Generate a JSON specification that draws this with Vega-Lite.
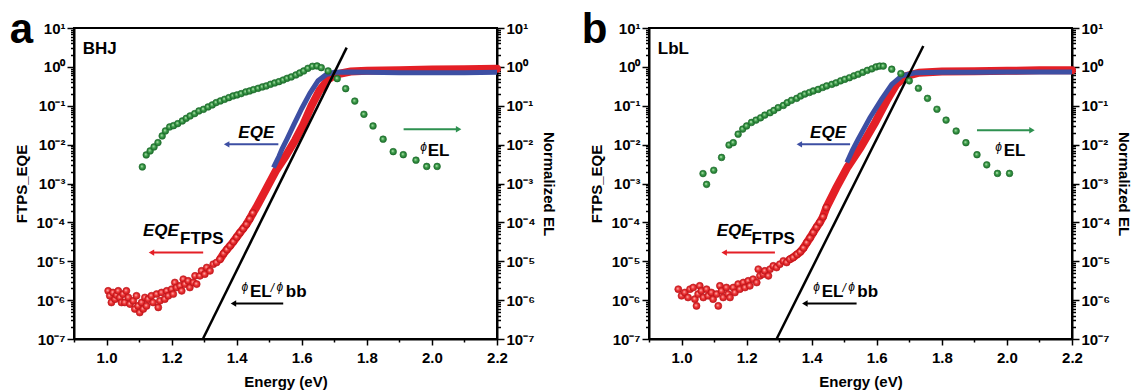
{
"$schema":"https://vega.github.io/schema/vega-lite/v6.json",
"padding":{"left":8,"top":8,"right":0,"bottom":0},
"datasets":{
"a_curves":[
{"s":"FTPS","E":1.005,"v":1.73e-6},{"s":"FTPS","E":1.010,"v":1.29e-6},{"s":"FTPS","E":1.015,"v":8.7e-7},{"s":"FTPS","E":1.020,"v":1.57e-6},{"s":"FTPS","E":1.026,"v":1.06e-6},{"s":"FTPS","E":1.031,"v":1.34e-6},{"s":"FTPS","E":1.036,"v":1.73e-6},{"s":"FTPS","E":1.041,"v":1.17e-6},{"s":"FTPS","E":1.046,"v":8.7e-7},{"s":"FTPS","E":1.051,"v":1.43e-6},{"s":"FTPS","E":1.056,"v":8.7e-7},{"s":"FTPS","E":1.061,"v":1.73e-6},{"s":"FTPS","E":1.067,"v":1.17e-6},{"s":"FTPS","E":1.072,"v":7.9e-7},{"s":"FTPS","E":1.082,"v":9.6e-7},{"s":"FTPS","E":1.087,"v":5.9e-7},{"s":"FTPS","E":1.092,"v":1.29e-6},{"s":"FTPS","E":1.097,"v":7.1e-7},{"s":"FTPS","E":1.102,"v":4.8e-7},{"s":"FTPS","E":1.108,"v":8.7e-7},{"s":"FTPS","E":1.113,"v":5.9e-7},{"s":"FTPS","E":1.118,"v":1.17e-6},{"s":"FTPS","E":1.123,"v":7.1e-7},{"s":"FTPS","E":1.128,"v":1.06e-6},{"s":"FTPS","E":1.138,"v":1.29e-6},{"s":"FTPS","E":1.143,"v":8.7e-7},{"s":"FTPS","E":1.154,"v":1.43e-6},{"s":"FTPS","E":1.159,"v":6.5e-7},{"s":"FTPS","E":1.164,"v":9.6e-7},{"s":"FTPS","E":1.169,"v":1.57e-6},{"s":"FTPS","E":1.179,"v":1.06e-6},{"s":"FTPS","E":1.185,"v":1.73e-6},{"s":"FTPS","E":1.190,"v":1.29e-6},{"s":"FTPS","E":1.200,"v":1.91e-6},{"s":"FTPS","E":1.205,"v":1.43e-6},{"s":"FTPS","E":1.210,"v":2.84e-6},{"s":"FTPS","E":1.215,"v":2.11e-6},{"s":"FTPS","E":1.226,"v":2.33e-6},{"s":"FTPS","E":1.231,"v":1.73e-6},{"s":"FTPS","E":1.236,"v":3.46e-6},{"s":"FTPS","E":1.241,"v":2.58e-6},{"s":"FTPS","E":1.251,"v":3.13e-6},{"s":"FTPS","E":1.256,"v":2.11e-6},{"s":"FTPS","E":1.267,"v":2.84e-6},{"s":"FTPS","E":1.272,"v":4.21e-6},{"s":"FTPS","E":1.277,"v":2.58e-6},{"s":"FTPS","E":1.287,"v":4.21e-6},{"s":"FTPS","E":1.292,"v":5.66e-6},{"s":"FTPS","E":1.302,"v":4.66e-6},{"s":"FTPS","E":1.308,"v":6.9e-6},{"s":"FTPS","E":1.318,"v":5.66e-6},{"s":"FTPS","E":1.328,"v":8.4e-6},{"s":"FTPS","E":1.338,"v":9.3e-6},{"s":"FTPS","E":1.349,"v":1.13e-5},
{"s":"FTPS","E":1.36,"v":1.58e-5},{"s":"FTPS","E":1.37,"v":2.0e-5},{"s":"FTPS","E":1.38,"v":2.51e-5},{"s":"FTPS","E":1.39,"v":3.2e-5},{"s":"FTPS","E":1.40,"v":4.17e-5},{"s":"FTPS","E":1.41,"v":5.4e-5},{"s":"FTPS","E":1.42,"v":6.9e-5},{"s":"FTPS","E":1.43,"v":8.91e-5},{"s":"FTPS","E":1.44,"v":1.23e-4},{"s":"FTPS","E":1.45,"v":1.74e-4},{"s":"FTPS","E":1.46,"v":2.4e-4},{"s":"FTPS","E":1.49,"v":7.08e-4},{"s":"FTPS","E":1.52,"v":2.09e-3},{"s":"FTPS","E":1.55,"v":5.01e-3},{"s":"FTPS","E":1.58,"v":0.0132},{"s":"FTPS","E":1.605,"v":0.0331},{"s":"FTPS","E":1.63,"v":0.1},{"s":"FTPS","E":1.655,"v":0.251},{"s":"FTPS","E":1.68,"v":0.468},{"s":"FTPS","E":1.70,"v":0.603},{"s":"FTPS","E":1.72,"v":0.676},{"s":"FTPS","E":1.75,"v":0.759},{"s":"FTPS","E":1.8,"v":0.794},{"s":"FTPS","E":1.9,"v":0.813},{"s":"FTPS","E":2.0,"v":0.851},{"s":"FTPS","E":2.1,"v":0.871},{"s":"FTPS","E":2.2,"v":0.891},
{"s":"EQE","E":1.513,"v":2.57e-3},{"s":"EQE","E":1.53,"v":5.01e-3},{"s":"EQE","E":1.54,"v":7.94e-3},{"s":"EQE","E":1.555,"v":0.0141},{"s":"EQE","E":1.575,"v":0.0316},{"s":"EQE","E":1.60,"v":0.0851},{"s":"EQE","E":1.625,"v":0.209},{"s":"EQE","E":1.65,"v":0.437},{"s":"EQE","E":1.675,"v":0.631},{"s":"EQE","E":1.70,"v":0.724},{"s":"EQE","E":1.75,"v":0.741},{"s":"EQE","E":1.8,"v":0.724},{"s":"EQE","E":1.9,"v":0.708},{"s":"EQE","E":2.0,"v":0.708},{"s":"EQE","E":2.1,"v":0.708},{"s":"EQE","E":2.2,"v":0.724},
{"s":"BB","E":1.296,"v":1e-7},{"s":"BB","E":1.738,"v":3.12}
],
"a_el":[
{"E":1.110,"v":2.67e-3},{"E":1.122,"v":5.43e-3},{"E":1.134,"v":6.89e-3},{"E":1.146,"v":8.73e-3},{"E":1.158,"v":0.01127},{"E":1.171,"v":0.01675},{"E":1.181,"v":0.02249},{"E":1.194,"v":0.0285},{"E":1.206,"v":0.0308},{"E":1.219,"v":0.0347},{"E":1.233,"v":0.0406},{"E":1.245,"v":0.0476},{"E":1.257,"v":0.0547},{"E":1.271,"v":0.0628},{"E":1.284,"v":0.0735},{"E":1.298,"v":0.0811},{"E":1.312,"v":0.0931},{"E":1.325,"v":0.105},{"E":1.337,"v":0.1205},{"E":1.350,"v":0.1328},{"E":1.363,"v":0.1466},{"E":1.376,"v":0.1618},{"E":1.389,"v":0.1786},{"E":1.401,"v":0.1897},{"E":1.414,"v":0.2051},{"E":1.428,"v":0.2265},{"E":1.440,"v":0.2399},{"E":1.452,"v":0.26},{"E":1.466,"v":0.2812},{"E":1.479,"v":0.304},{"E":1.491,"v":0.3228},{"E":1.504,"v":0.3565},{"E":1.517,"v":0.3855},{"E":1.530,"v":0.417},{"E":1.543,"v":0.46},{"E":1.555,"v":0.508},{"E":1.568,"v":0.55},{"E":1.582,"v":0.619},{"E":1.594,"v":0.697},{"E":1.606,"v":0.785},{"E":1.619,"v":0.918},{"E":1.633,"v":1.035},{"E":1.647,"v":1.055},{"E":1.660,"v":0.955},{"E":1.681,"v":0.785},{"E":1.709,"v":0.498},{"E":1.735,"v":0.275},{"E":1.763,"v":0.132},{"E":1.791,"v":0.0603},{"E":1.819,"v":0.0302},{"E":1.850,"v":0.0138},{"E":1.881,"v":6.6e-3},{"E":1.912,"v":5.5e-3},{"E":1.951,"v":3.98e-3},{"E":1.984,"v":2.75e-3},{"E":2.016,"v":2.75e-3}
],
"a_arrows":[
{"s":"EQE","E":1.369,"E2":1.528,"v":0.0102,"dir":"left"},
{"s":"EL","E":2.082,"E2":1.913,"v":0.0249,"dir":"right"},
{"s":"FTPS","E":1.138,"E2":1.297,"v":1.67e-5,"dir":"left"},
{"s":"BB","E":1.390,"E2":1.543,"v":8.2e-7,"dir":"left"}
],
"a_tag":[{"t":"a","E":0.7025,"v":4.11}],
"a_bold":[
{"t":"BHJ","E":0.927,"v":2.15},{"t":"FTPS","E":1.226,"v":2.8e-5},{"t":"EL","E":1.987,"v":5.1e-3},{"t":"EL","E":1.441,"v":1.17e-6},{"t":"bb","E":1.551,"v":1.17e-6}
],
"a_it":[
{"t":"EQE","E":1.405,"v":0.01486},{"t":"EQE","E":1.112,"v":4.5e-5}
],
"a_phi":[
{"t":"ϕ","E":1.964,"v":6.9e-3},{"t":"ϕ","E":1.415,"v":1.74e-6},{"t":"/","E":1.505,"v":1.63e-6},{"t":"ϕ","E":1.522,"v":1.74e-6}
],
"b_curves":[
{"s":"FTPS","E":0.990,"v":1.91e-6},{"s":"FTPS","E":1.000,"v":1.29e-6},{"s":"FTPS","E":1.010,"v":1.57e-6},{"s":"FTPS","E":1.020,"v":1.17e-6},{"s":"FTPS","E":1.026,"v":1.91e-6},{"s":"FTPS","E":1.036,"v":2.11e-6},{"s":"FTPS","E":1.041,"v":1.06e-6},{"s":"FTPS","E":1.046,"v":7.1e-7},{"s":"FTPS","E":1.051,"v":1.43e-6},{"s":"FTPS","E":1.056,"v":2.33e-6},{"s":"FTPS","E":1.061,"v":1.73e-6},{"s":"FTPS","E":1.067,"v":1.17e-6},{"s":"FTPS","E":1.077,"v":1.91e-6},{"s":"FTPS","E":1.082,"v":1.29e-6},{"s":"FTPS","E":1.092,"v":1.57e-6},{"s":"FTPS","E":1.097,"v":1.06e-6},{"s":"FTPS","E":1.108,"v":1.43e-6},{"s":"FTPS","E":1.113,"v":7.1e-7},{"s":"FTPS","E":1.118,"v":2.33e-6},{"s":"FTPS","E":1.123,"v":1.73e-6},{"s":"FTPS","E":1.128,"v":1.17e-6},{"s":"FTPS","E":1.138,"v":2.11e-6},{"s":"FTPS","E":1.143,"v":1.43e-6},{"s":"FTPS","E":1.149,"v":1.17e-6},{"s":"FTPS","E":1.159,"v":2.11e-6},{"s":"FTPS","E":1.164,"v":1.57e-6},{"s":"FTPS","E":1.174,"v":2.58e-6},{"s":"FTPS","E":1.179,"v":1.91e-6},{"s":"FTPS","E":1.190,"v":2.84e-6},{"s":"FTPS","E":1.195,"v":2.11e-6},{"s":"FTPS","E":1.205,"v":3.13e-6},{"s":"FTPS","E":1.210,"v":2.33e-6},{"s":"FTPS","E":1.220,"v":3.46e-6},{"s":"FTPS","E":1.231,"v":2.84e-6},{"s":"FTPS","E":1.236,"v":6.25e-6},{"s":"FTPS","E":1.241,"v":4.21e-6},{"s":"FTPS","E":1.251,"v":4.66e-6},{"s":"FTPS","E":1.256,"v":5.66e-6},{"s":"FTPS","E":1.267,"v":4.21e-6},{"s":"FTPS","E":1.272,"v":6.25e-6},{"s":"FTPS","E":1.282,"v":7.6e-6},{"s":"FTPS","E":1.292,"v":6.9e-6},{"s":"FTPS","E":1.302,"v":8.4e-6},{"s":"FTPS","E":1.313,"v":1.02e-5},{"s":"FTPS","E":1.323,"v":9.3e-6},{"s":"FTPS","E":1.333,"v":1.13e-5},{"s":"FTPS","E":1.343,"v":1.25e-5},
{"s":"FTPS","E":1.355,"v":1.5e-5},{"s":"FTPS","E":1.365,"v":1.75e-5},{"s":"FTPS","E":1.375,"v":2.2e-5},{"s":"FTPS","E":1.385,"v":3.0e-5},{"s":"FTPS","E":1.395,"v":4.0e-5},{"s":"FTPS","E":1.405,"v":5.5e-5},{"s":"FTPS","E":1.415,"v":7.5e-5},{"s":"FTPS","E":1.425,"v":1.0e-4},{"s":"FTPS","E":1.435,"v":1.4e-4},{"s":"FTPS","E":1.445,"v":2.4e-4},{"s":"FTPS","E":1.475,"v":7.59e-4},{"s":"FTPS","E":1.51,"v":2.63e-3},{"s":"FTPS","E":1.55,"v":8.32e-3},{"s":"FTPS","E":1.595,"v":0.0372},{"s":"FTPS","E":1.63,"v":0.132},{"s":"FTPS","E":1.66,"v":0.355},{"s":"FTPS","E":1.69,"v":0.575},{"s":"FTPS","E":1.73,"v":0.708},{"s":"FTPS","E":1.8,"v":0.759},{"s":"FTPS","E":1.9,"v":0.776},{"s":"FTPS","E":2.0,"v":0.794},{"s":"FTPS","E":2.1,"v":0.813},{"s":"FTPS","E":2.2,"v":0.813},
{"s":"EQE","E":1.508,"v":3.47e-3},{"s":"EQE","E":1.525,"v":7.08e-3},{"s":"EQE","E":1.543,"v":0.0138},{"s":"EQE","E":1.579,"v":0.049},{"s":"EQE","E":1.615,"v":0.148},{"s":"EQE","E":1.646,"v":0.355},{"s":"EQE","E":1.677,"v":0.589},{"s":"EQE","E":1.718,"v":0.708},{"s":"EQE","E":1.8,"v":0.724},{"s":"EQE","E":1.9,"v":0.724},{"s":"EQE","E":2.0,"v":0.741},{"s":"EQE","E":2.1,"v":0.741},{"s":"EQE","E":2.2,"v":0.741},
{"s":"BB","E":1.292,"v":1e-7},{"s":"BB","E":1.743,"v":3.44}
],
"b_el":[
{"E":1.066,"v":1.8e-3},{"E":1.077,"v":9.5e-4},{"E":1.099,"v":2.19e-3},{"E":1.123,"v":4.68e-3},{"E":1.146,"v":9.77e-3},{"E":1.159,"v":0.0112},{"E":1.174,"v":0.0186},{"E":1.188,"v":0.0251},{"E":1.200,"v":0.0302},{"E":1.215,"v":0.0372},{"E":1.229,"v":0.0427},{"E":1.243,"v":0.049},{"E":1.256,"v":0.0575},{"E":1.272,"v":0.0661},{"E":1.284,"v":0.0759},{"E":1.297,"v":0.0891},{"E":1.313,"v":0.102},{"E":1.325,"v":0.12},{"E":1.338,"v":0.138},{"E":1.354,"v":0.155},{"E":1.366,"v":0.178},{"E":1.379,"v":0.2},{"E":1.393,"v":0.219},{"E":1.405,"v":0.24},{"E":1.420,"v":0.263},{"E":1.434,"v":0.295},{"E":1.446,"v":0.324},{"E":1.462,"v":0.355},{"E":1.475,"v":0.389},{"E":1.489,"v":0.437},{"E":1.502,"v":0.479},{"E":1.516,"v":0.525},{"E":1.530,"v":0.589},{"E":1.543,"v":0.646},{"E":1.557,"v":0.724},{"E":1.571,"v":0.813},{"E":1.585,"v":0.891},{"E":1.598,"v":1.0},{"E":1.609,"v":1.05},{"E":1.620,"v":1.047},{"E":1.646,"v":0.871},{"E":1.674,"v":0.676},{"E":1.700,"v":0.437},{"E":1.728,"v":0.282},{"E":1.756,"v":0.155},{"E":1.785,"v":0.0813},{"E":1.813,"v":0.0427},{"E":1.844,"v":0.0224},{"E":1.874,"v":0.0112},{"E":1.908,"v":5.5e-3},{"E":1.938,"v":3.02e-3},{"E":1.971,"v":1.82e-3},{"E":2.008,"v":1.82e-3}
],
"b_arrows":[
{"s":"EQE","E":1.362,"E2":1.518,"v":0.0102,"dir":"left"},
{"s":"EL","E":2.077,"E2":1.908,"v":0.0234,"dir":"right"},
{"s":"FTPS","E":1.131,"E2":1.287,"v":1.67e-5,"dir":"left"},
{"s":"BB","E":1.379,"E2":1.538,"v":8.2e-7,"dir":"left"}
],
"b_tag":[{"t":"b","E":0.693,"v":4.11}],
"b_bold":[
{"t":"LbL","E":0.927,"v":2.15},{"t":"FTPS","E":1.215,"v":2.8e-5},{"t":"EL","E":1.990,"v":5.1e-3},{"t":"EL","E":1.431,"v":1.17e-6},{"t":"bb","E":1.540,"v":1.17e-6}
],
"b_it":[
{"t":"EQE","E":1.395,"v":0.01486},{"t":"EQE","E":1.108,"v":4.5e-5}
],
"b_phi":[
{"t":"ϕ","E":1.964,"v":6.9e-3},{"t":"ϕ","E":1.405,"v":1.74e-6},{"t":"/","E":1.495,"v":1.63e-6},{"t":"ϕ","E":1.512,"v":1.74e-6}
]
},
"hconcat":[
{
"width":423,"height":311,
"encoding":{"x":{"field":"E","type":"quantitative","title":"Energy (eV)","scale":{"domain":[0.9,2.2],"nice":false,"zero":false},
 "axis":{"values":[0.9,1.0,1.1,1.2,1.3,1.4,1.5,1.6,1.7,1.8,1.9,2.0,2.1,2.2],"labelExpr":"round(datum.value*10)%2==0 ? format(datum.value,'.1f') : ''","tickSize":{"condition":{"test":"round(datum.value*10)%2==0","value":6},"value":3},"labelFlush":false,"labelOverlap":false,"labelPadding":5,"titlePadding":9,"titleColor":"black"}}},
"layer":[
 {"encoding":{"y":{"field":"v","type":"quantitative","scale":{"type":"log","domain":[1e-7,10],"nice":false},
  "axis":{"orient":"left","title":"FTPS_EQE","titleColor":"black","values":[1e-7,2e-7,3e-7,4e-7,5e-7,6e-7,7e-7,8e-7,9e-7,1e-6,2e-6,3e-6,4e-6,5e-6,6e-6,7e-6,8e-6,9e-6,1e-5,2e-5,3e-5,4e-5,5e-5,6e-5,7e-5,8e-5,9e-5,1e-4,2e-4,3e-4,4e-4,5e-4,6e-4,7e-4,8e-4,9e-4,0.001,0.002,0.003,0.004,0.005,0.006,0.007,0.008,0.009,0.01,0.02,0.03,0.04,0.05,0.06,0.07,0.08,0.09,0.1,0.2,0.3,0.4,0.5,0.6,0.7,0.8,0.9,1,2,3,4,5,6,7,8,9,10],
  "labelExpr":"abs(log(datum.value)/LN10-round(log(datum.value)/LN10))<0.01 ? '10'+['⁻⁷','⁻⁶','⁻⁵','⁻⁴','⁻³','⁻²','⁻¹','⁰','¹'][round(log(datum.value)/LN10)+7] : ''",
  "tickSize":{"condition":{"test":"abs(log(datum.value)/LN10-round(log(datum.value)/LN10))<0.01","value":7},"value":3.5},"labelFlush":false,"labelOverlap":false,"labelPadding":2,"titlePadding":6}}},
  "layer":[
   {"data":{"name":"a_curves"},"transform":[{"filter":"datum.s=='FTPS' && datum.E>=1.34"}],"mark":{"type":"line","color":"#e41f26","strokeWidth":8,"strokeCap":"round"}},
   {"data":{"name":"a_curves"},"transform":[{"filter":"datum.s=='FTPS' && datum.E<1.455"}],"mark":{"type":"circle","size":50,"opacity":1,"fill":{"gradient":"radial","x1":0.4,"y1":0.4,"r1":0,"x2":0.5,"y2":0.5,"r2":0.5,"stops":[{"offset":0,"color":"#ffc8c8"},{"offset":0.45,"color":"#f03a3a"},{"offset":1,"color":"#c8161c"}]},"stroke":"#c0141a","strokeWidth":0.6}},
   {"data":{"name":"a_curves"},"transform":[{"filter":"datum.s=='EQE'"}],"mark":{"type":"line","color":"#3d4fa3","strokeWidth":5}},
   {"data":{"name":"a_curves"},"transform":[{"filter":"datum.s=='BB'"}],"mark":{"type":"line","color":"black","strokeWidth":2.5}},
   {"data":{"name":"a_arrows"},"mark":{"type":"rule","strokeWidth":2},"encoding":{"x2":{"field":"E2"},"color":{"field":"s","type":"nominal","scale":{"domain":["FTPS","EQE","EL","BB"],"range":["#e41f26","#3d4fa3","#2e9150","#000000"]},"legend":null}}},
   {"data":{"name":"a_arrows"},"mark":{"type":"point","filled":true,"size":40,"opacity":1},"encoding":{"shape":{"field":"dir","type":"nominal","scale":{"domain":["left","right"],"range":["triangle-left","triangle-right"]},"legend":null},"color":{"field":"s","type":"nominal","scale":{"domain":["FTPS","EQE","EL","BB"],"range":["#e41f26","#3d4fa3","#2e9150","#000000"]},"legend":null}}},
   {"data":{"name":"a_tag"},"mark":{"type":"text","align":"left","baseline":"alphabetic","font":"Liberation Sans","fontSize":42,"fontWeight":"bold","color":"black"},"encoding":{"text":{"field":"t"}}},
   {"data":{"name":"a_bold"},"mark":{"type":"text","align":"left","baseline":"alphabetic","font":"Liberation Sans","fontSize":17,"fontWeight":"bold","color":"black"},"encoding":{"text":{"field":"t"}}},
   {"data":{"name":"a_it"},"mark":{"type":"text","align":"left","baseline":"alphabetic","font":"Liberation Sans","fontSize":17,"fontWeight":"bold","fontStyle":"italic","color":"black"},"encoding":{"text":{"field":"t"}}},
   {"data":{"name":"a_phi"},"mark":{"type":"text","align":"left","baseline":"alphabetic","font":"Liberation Sans","fontSize":12,"fontStyle":"italic","color":"black"},"encoding":{"text":{"field":"t"}}}
  ]},
 {"encoding":{"y":{"field":"v","type":"quantitative","scale":{"type":"log","domain":[1e-7,10],"nice":false},
  "axis":{"orient":"right","title":"Normalized EL","titleColor":"black","values":[1e-7,2e-7,3e-7,4e-7,5e-7,6e-7,7e-7,8e-7,9e-7,1e-6,2e-6,3e-6,4e-6,5e-6,6e-6,7e-6,8e-6,9e-6,1e-5,2e-5,3e-5,4e-5,5e-5,6e-5,7e-5,8e-5,9e-5,1e-4,2e-4,3e-4,4e-4,5e-4,6e-4,7e-4,8e-4,9e-4,0.001,0.002,0.003,0.004,0.005,0.006,0.007,0.008,0.009,0.01,0.02,0.03,0.04,0.05,0.06,0.07,0.08,0.09,0.1,0.2,0.3,0.4,0.5,0.6,0.7,0.8,0.9,1,2,3,4,5,6,7,8,9,10],
  "labelExpr":"abs(log(datum.value)/LN10-round(log(datum.value)/LN10))<0.01 ? '10'+['⁻⁷','⁻⁶','⁻⁵','⁻⁴','⁻³','⁻²','⁻¹','⁰','¹'][round(log(datum.value)/LN10)+7] : ''",
  "tickSize":{"condition":{"test":"abs(log(datum.value)/LN10-round(log(datum.value)/LN10))<0.01","value":7},"value":3.5},"labelFlush":false,"labelOverlap":false,"labelPadding":2,"titlePadding":5}}},
  "layer":[
   {"data":{"name":"a_el"},"mark":{"type":"circle","size":45,"opacity":1,"fill":{"gradient":"radial","x1":0.4,"y1":0.4,"r1":0,"x2":0.5,"y2":0.5,"r2":0.5,"stops":[{"offset":0,"color":"#d8f5d0"},{"offset":0.45,"color":"#3fa04c"},{"offset":1,"color":"#1e6e2c"}]},"stroke":"#1d6b2b","strokeWidth":0.6}}
  ]}
],
"resolve":{"scale":{"y":"independent"},"axis":{"y":"independent"}}
},
{
"width":423,"height":311,
"encoding":{"x":{"field":"E","type":"quantitative","title":"Energy (eV)","scale":{"domain":[0.9,2.2],"nice":false,"zero":false},
 "axis":{"values":[0.9,1.0,1.1,1.2,1.3,1.4,1.5,1.6,1.7,1.8,1.9,2.0,2.1,2.2],"labelExpr":"round(datum.value*10)%2==0 ? format(datum.value,'.1f') : ''","tickSize":{"condition":{"test":"round(datum.value*10)%2==0","value":6},"value":3},"labelFlush":false,"labelOverlap":false,"labelPadding":5,"titlePadding":9,"titleColor":"black"}}},
"layer":[
 {"encoding":{"y":{"field":"v","type":"quantitative","scale":{"type":"log","domain":[1e-7,10],"nice":false},
  "axis":{"orient":"left","title":"FTPS_EQE","titleColor":"black","values":[1e-7,2e-7,3e-7,4e-7,5e-7,6e-7,7e-7,8e-7,9e-7,1e-6,2e-6,3e-6,4e-6,5e-6,6e-6,7e-6,8e-6,9e-6,1e-5,2e-5,3e-5,4e-5,5e-5,6e-5,7e-5,8e-5,9e-5,1e-4,2e-4,3e-4,4e-4,5e-4,6e-4,7e-4,8e-4,9e-4,0.001,0.002,0.003,0.004,0.005,0.006,0.007,0.008,0.009,0.01,0.02,0.03,0.04,0.05,0.06,0.07,0.08,0.09,0.1,0.2,0.3,0.4,0.5,0.6,0.7,0.8,0.9,1,2,3,4,5,6,7,8,9,10],
  "labelExpr":"abs(log(datum.value)/LN10-round(log(datum.value)/LN10))<0.01 ? '10'+['⁻⁷','⁻⁶','⁻⁵','⁻⁴','⁻³','⁻²','⁻¹','⁰','¹'][round(log(datum.value)/LN10)+7] : ''",
  "tickSize":{"condition":{"test":"abs(log(datum.value)/LN10-round(log(datum.value)/LN10))<0.01","value":7},"value":3.5},"labelFlush":false,"labelOverlap":false,"labelPadding":2,"titlePadding":6}}},
  "layer":[
   {"data":{"name":"b_curves"},"transform":[{"filter":"datum.s=='FTPS' && datum.E>=1.333"}],"mark":{"type":"line","color":"#e41f26","strokeWidth":8,"strokeCap":"round"}},
   {"data":{"name":"b_curves"},"transform":[{"filter":"datum.s=='FTPS' && datum.E<1.45"}],"mark":{"type":"circle","size":50,"opacity":1,"fill":{"gradient":"radial","x1":0.4,"y1":0.4,"r1":0,"x2":0.5,"y2":0.5,"r2":0.5,"stops":[{"offset":0,"color":"#ffc8c8"},{"offset":0.45,"color":"#f03a3a"},{"offset":1,"color":"#c8161c"}]},"stroke":"#c0141a","strokeWidth":0.6}},
   {"data":{"name":"b_curves"},"transform":[{"filter":"datum.s=='EQE'"}],"mark":{"type":"line","color":"#3d4fa3","strokeWidth":5}},
   {"data":{"name":"b_curves"},"transform":[{"filter":"datum.s=='BB'"}],"mark":{"type":"line","color":"black","strokeWidth":2.5}},
   {"data":{"name":"b_arrows"},"mark":{"type":"rule","strokeWidth":2},"encoding":{"x2":{"field":"E2"},"color":{"field":"s","type":"nominal","scale":{"domain":["FTPS","EQE","EL","BB"],"range":["#e41f26","#3d4fa3","#2e9150","#000000"]},"legend":null}}},
   {"data":{"name":"b_arrows"},"mark":{"type":"point","filled":true,"size":40,"opacity":1},"encoding":{"shape":{"field":"dir","type":"nominal","scale":{"domain":["left","right"],"range":["triangle-left","triangle-right"]},"legend":null},"color":{"field":"s","type":"nominal","scale":{"domain":["FTPS","EQE","EL","BB"],"range":["#e41f26","#3d4fa3","#2e9150","#000000"]},"legend":null}}},
   {"data":{"name":"b_tag"},"mark":{"type":"text","align":"left","baseline":"alphabetic","font":"Liberation Sans","fontSize":42,"fontWeight":"bold","color":"black"},"encoding":{"text":{"field":"t"}}},
   {"data":{"name":"b_bold"},"mark":{"type":"text","align":"left","baseline":"alphabetic","font":"Liberation Sans","fontSize":17,"fontWeight":"bold","color":"black"},"encoding":{"text":{"field":"t"}}},
   {"data":{"name":"b_it"},"mark":{"type":"text","align":"left","baseline":"alphabetic","font":"Liberation Sans","fontSize":17,"fontWeight":"bold","fontStyle":"italic","color":"black"},"encoding":{"text":{"field":"t"}}},
   {"data":{"name":"b_phi"},"mark":{"type":"text","align":"left","baseline":"alphabetic","font":"Liberation Sans","fontSize":12,"fontStyle":"italic","color":"black"},"encoding":{"text":{"field":"t"}}}
  ]},
 {"encoding":{"y":{"field":"v","type":"quantitative","scale":{"type":"log","domain":[1e-7,10],"nice":false},
  "axis":{"orient":"right","title":"Normalized EL","titleColor":"black","values":[1e-7,2e-7,3e-7,4e-7,5e-7,6e-7,7e-7,8e-7,9e-7,1e-6,2e-6,3e-6,4e-6,5e-6,6e-6,7e-6,8e-6,9e-6,1e-5,2e-5,3e-5,4e-5,5e-5,6e-5,7e-5,8e-5,9e-5,1e-4,2e-4,3e-4,4e-4,5e-4,6e-4,7e-4,8e-4,9e-4,0.001,0.002,0.003,0.004,0.005,0.006,0.007,0.008,0.009,0.01,0.02,0.03,0.04,0.05,0.06,0.07,0.08,0.09,0.1,0.2,0.3,0.4,0.5,0.6,0.7,0.8,0.9,1,2,3,4,5,6,7,8,9,10],
  "labelExpr":"abs(log(datum.value)/LN10-round(log(datum.value)/LN10))<0.01 ? '10'+['⁻⁷','⁻⁶','⁻⁵','⁻⁴','⁻³','⁻²','⁻¹','⁰','¹'][round(log(datum.value)/LN10)+7] : ''",
  "tickSize":{"condition":{"test":"abs(log(datum.value)/LN10-round(log(datum.value)/LN10))<0.01","value":7},"value":3.5},"labelFlush":false,"labelOverlap":false,"labelPadding":2,"titlePadding":5}}},
  "layer":[
   {"data":{"name":"b_el"},"mark":{"type":"circle","size":45,"opacity":1,"fill":{"gradient":"radial","x1":0.4,"y1":0.4,"r1":0,"x2":0.5,"y2":0.5,"r2":0.5,"stops":[{"offset":0,"color":"#d8f5d0"},{"offset":0.45,"color":"#3fa04c"},{"offset":1,"color":"#1e6e2c"}]},"stroke":"#1d6b2b","strokeWidth":0.6}}
  ]}
],
"resolve":{"scale":{"y":"independent"},"axis":{"y":"independent"}}
}
],
"spacing":152,
"bounds":"flush",
"config":{
 "view":{"stroke":"black","strokeWidth":2},
 "axis":{"domainColor":"black","domainWidth":2,"tickColor":"black","tickWidth":1.5,"labelColor":"black","labelFont":"Liberation Sans","labelFontSize":15,"labelFontWeight":"bold","titleColor":"black","titleFont":"Liberation Sans","titleFontSize":15,"titleFontWeight":"bold","grid":false}
}
}
